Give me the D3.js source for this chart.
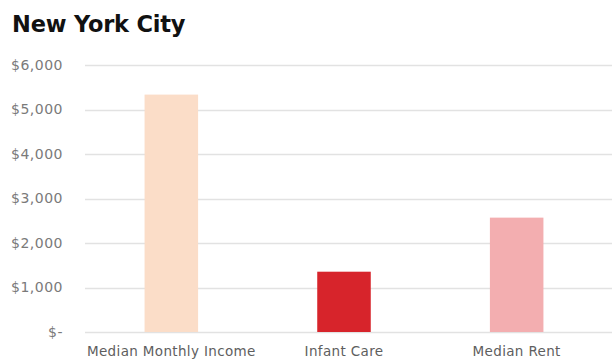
<!DOCTYPE html>
<html>
<head>
<meta charset="utf-8">
<script src="https://cdn.jsdelivr.net/npm/d3@7"></script>
<style>
  html, body { margin: 0; padding: 0; background: #fff; }
  svg { display: block; }
</style>
</head>
<body>
<svg id="chart" width="613" height="362"></svg>
<script>
// Monthly costs in New York City
const categories = ["Median Monthly Income", "Infant Care", "Median Rent"];
const values = [5335, 1355, 2570];
const barColors = ["#FBDDC8", "#D7242B", "#F3AEB0"];
const tickValues = [0, 1000, 2000, 3000, 4000, 5000, 6000];
const tickLabels = ["$-", "$1,000", "$2,000", "$3,000", "$4,000", "$5,000", "$6,000"];

const svg = d3.select("#chart");
const plotLeft = 85, plotRight = 603, gridRight = 612;
const plotTop = 65, plotBottom = 332;

const x = d3.scaleBand().domain(categories).range([plotLeft, plotRight]).paddingInner(0.69).paddingOuter(0.345);
const y = d3.scaleLinear().domain([0, 6000]).range([plotBottom, plotTop]);

svg.append("text")
  .attr("x", 12).attr("y", 32)
  .attr("font-family", "'DejaVu Sans', sans-serif")
  .attr("font-weight", "bold")
  .attr("font-size", 22.5)
  .attr("letter-spacing", -0.2)
  .attr("fill", "#111")
  .text("New York City");

// horizontal gridlines
svg.append("g").selectAll("line").data(tickValues).join("line")
  .attr("x1", plotLeft).attr("x2", gridRight)
  .attr("y1", d => Math.round(y(d)) + 0.5).attr("y2", d => Math.round(y(d)) + 0.5)
  .attr("stroke", "#e2e2e2").attr("stroke-width", 1.3);

// y axis labels
const yAxis = d3.axisLeft(y).tickValues(tickValues)
  .tickFormat((d, i) => tickLabels[i]).tickSize(0).tickPadding(0);
const gy = svg.append("g").attr("transform", `translate(63,0)`).call(yAxis);
gy.select(".domain").remove();
gy.selectAll("text")
  .attr("font-family", "'DejaVu Sans', sans-serif")
  .attr("font-size", 14)
  .attr("letter-spacing", 0.5)
  .attr("fill", "#7a7a7a");

// bars
svg.append("g").selectAll("rect").data(values).join("rect")
  .attr("x", (d, i) => x(categories[i]))
  .attr("width", x.bandwidth())
  .attr("y", d => y(d))
  .attr("height", d => plotBottom - y(d))
  .attr("fill", (d, i) => barColors[i]);

// category labels
const xAxis = d3.axisBottom(x).tickSize(0).tickPadding(0);
const gx = svg.append("g").attr("transform", `translate(0,${plotBottom + 20})`).call(xAxis);
gx.select(".domain").remove();
gx.selectAll("text")
  .attr("dy", "0.32em")
  .attr("font-family", "'DejaVu Sans', sans-serif")
  .attr("font-size", 13.5)
  .attr("letter-spacing", 0.35)
  .attr("fill", "#5e5e5e");
</script>
</body>
</html>
